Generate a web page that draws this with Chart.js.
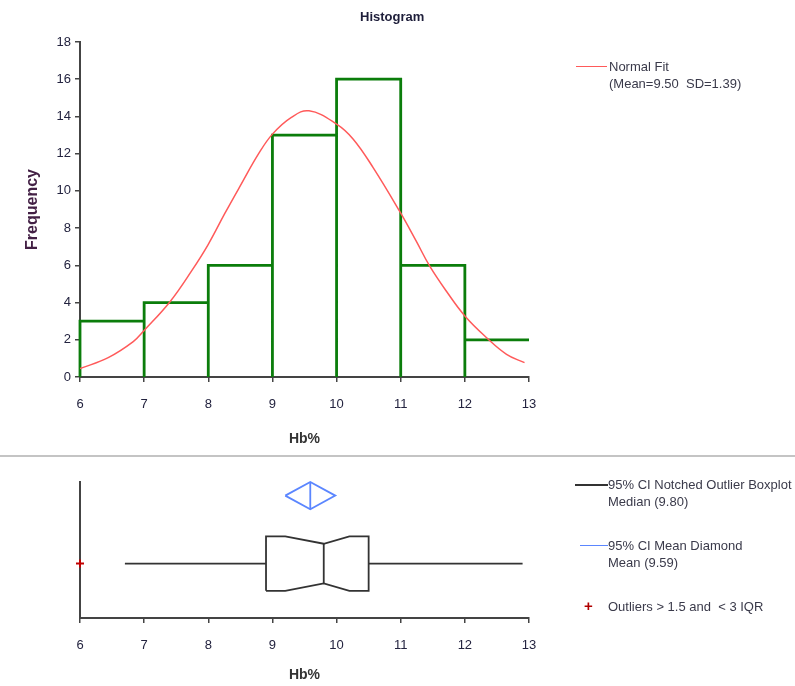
<!DOCTYPE html>
<html>
<head>
<meta charset="utf-8">
<script src="https://cdn.jsdelivr.net/npm/chart.js@4.4.1/dist/chart.umd.min.js"></script>
<style>
  body { margin: 0; background: #fff; font-family: "Liberation Sans", Arial, sans-serif; }
  #page { position: relative; width: 795px; height: 686px; overflow: hidden; }
  canvas { position: absolute; left: 0; }
  .txt { position: absolute; font-size: 13px; color: #3a3a4a; white-space: nowrap; line-height: 17px; }
  .swatch { position: absolute; height: 0; }
</style>
</head>
<body>
<div id="page">
  <canvas id="hist" width="795" height="455" style="top:0"></canvas>
  <canvas id="box" width="795" height="231" style="top:455px"></canvas>

  <div class="txt" style="left:360px; top:8px; font-weight:bold; color:#1e1e3a;">Histogram</div>

  <!-- separator between the two panels -->
  <div style="position:absolute; left:0; top:455px; width:795px; height:2px; background:#c4c4c4;"></div>

  <!-- legend, histogram panel -->
  <div class="swatch" style="left:576px; top:66px; width:31px; border-top:1.5px solid #ff5a5a;"></div>
  <div class="txt" style="left:609px; top:58px;">Normal Fit<br>(Mean=9.50&nbsp; SD=1.39)</div>

  <!-- legend, boxplot panel -->
  <div class="swatch" style="left:575px; top:484px; width:33px; border-top:2px solid #333;"></div>
  <div class="txt" style="left:608px; top:476px;">95% CI Notched Outlier Boxplot<br>Median (9.80)</div>
  <div class="swatch" style="left:580px; top:545px; width:28px; border-top:1.5px solid #5b86ff;"></div>
  <div class="txt" style="left:608px; top:537px;">95% CI Mean Diamond<br>Mean (9.59)</div>
  <div class="txt" style="left:584px; top:597px; color:#b00000; font-weight:bold; font-size:15px;">+</div>
  <div class="txt" style="left:608px; top:598px;">Outliers &gt; 1.5 and &nbsp;&lt; 3 IQR</div>
</div>

<script>
// histogram bins
const binEdges = [6, 7, 8, 9, 10, 11, 12, 13];
const binCounts = [3, 4, 6, 13, 16, 6, 2];

// normal fit curve
const fitX = [6.0, 6.44, 6.83, 7.0, 7.4, 7.74, 8.0, 8.26, 8.52, 8.78, 9.0, 9.29, 9.57,
              10.0, 10.26, 10.57, 10.98, 11.24, 11.45, 11.71, 12.0, 12.34, 12.65, 12.93];
const fitY = [0.45, 1.04, 1.9, 2.5, 4.03, 5.7, 7.13, 8.8, 10.4, 11.97, 13.05, 13.94, 14.3,
              13.59, 12.78, 11.25, 8.92, 7.31, 5.97, 4.62, 3.28, 2.11, 1.22, 0.77];

// boxplot stats
const whiskerLow = 6.7;
const q1 = 8.9;
const notchLow = 9.2;
const median = 9.8;
const notchHigh = 10.2;
const q3 = 10.5;
const whiskerHigh = 12.9;
const outliers = [6.0];

// mean diamond
const meanVal = 9.59;
const meanLow = 9.2;
const meanHigh = 9.98;

const xTicks = [6, 7, 8, 9, 10, 11, 12, 13];

const tickFont = { family: "'Liberation Sans', Arial, sans-serif", size: 13 };
const tickColor = "#23233f";
const axisColor = "#444";

function xAxis(height, titlePad) {
    return {
        type: "linear",
        min: xTicks[0],
        max: xTicks[xTicks.length - 1],
        afterBuildTicks: (s) => { s.ticks = xTicks.map(v => ({ value: v })); },
        ticks: { color: tickColor, font: tickFont, padding: 15 },
        grid: { drawOnChartArea: false, drawTicks: true, tickLength: 5, color: axisColor, lineWidth: 1.5 },
        border: { color: axisColor, width: 2 },
        title: {
            display: true, text: "Hb%", color: "#333",
            font: { family: "'Liberation Sans', Arial, sans-serif", size: 14, weight: "bold" },
            padding: { top: 0, bottom: titlePad }
        },
        afterFit: (s) => { s.height = height; }
    };
}

// ---- histogram panel ----
let histPts = [{ x: binEdges[0], y: 0 }];
for (let i = 0; i < binCounts.length; i++) {
    histPts.push({ x: binEdges[i], y: binCounts[i] });
    histPts.push({ x: binEdges[i + 1], y: binCounts[i] });
    if (i < binCounts.length - 1) histPts.push({ x: binEdges[i + 1], y: 0 });
}

const fitPts = fitX.map((x, i) => ({ x: x, y: fitY[i] }));

new Chart(document.getElementById("hist").getContext("2d"), {
    type: "scatter",
    data: {
        datasets: [
            {
                label: "Normal Fit",
                data: fitPts,
                showLine: true,
                borderColor: "#ff5a5a",
                borderWidth: 1.5,
                pointRadius: 0,
                tension: 0.4,
                order: 0
            },
            {
                label: "Histogram",
                data: histPts,
                showLine: true,
                borderColor: "#0b7d0b",
                borderWidth: 2.8,
                pointRadius: 0,
                tension: 0,
                clip: false,
                order: 1
            }
        ]
    },
    options: {
        responsive: false,
        animation: false,
        layout: { padding: { top: 42, right: 266, left: 0, bottom: 0 } },
        plugins: { legend: { display: false }, tooltip: { enabled: false } },
        scales: {
            x: xAxis(78, 7),
            y: {
                min: 0,
                max: 18,
                ticks: { stepSize: 2, color: tickColor, font: tickFont, padding: 4 },
                grid: { drawOnChartArea: false, drawTicks: true, tickLength: 5, color: axisColor, lineWidth: 1.5 },
                border: { color: axisColor, width: 2 },
                title: {
                    display: true, text: "Frequency", color: "#432045",
                    font: { family: "'Liberation Sans', Arial, sans-serif", size: 16, weight: "bold" },
                    padding: { top: 23, bottom: 0 }
                },
                afterFit: (s) => { s.width = 80; }
            }
        }
    }
});

// ---- boxplot panel ----
// box sits at y 1..3, notch narrows to 1.27..2.73, diamond at y 4..5
const boxOutline = [
    { x: q1, y: 1 }, { x: q1, y: 3 }, { x: notchLow, y: 3 }, { x: median, y: 2.73 },
    { x: notchHigh, y: 3 }, { x: q3, y: 3 }, { x: q3, y: 1 }, { x: notchHigh, y: 1 },
    { x: median, y: 1.27 }, { x: notchLow, y: 1 }, { x: q1, y: 1 }
];
const medianLine = [{ x: median, y: 1.27 }, { x: median, y: 2.73 }];
const whiskers = [{ x: whiskerLow, y: 2 }, { x: q1, y: 2 }, { x: null, y: null }, { x: q3, y: 2 }, { x: whiskerHigh, y: 2 }];
const diamond = [
    { x: meanLow, y: 4.5 }, { x: meanVal, y: 5 }, { x: meanHigh, y: 4.5 },
    { x: meanVal, y: 4 }, { x: meanLow, y: 4.5 }
];
const meanLine = [{ x: meanVal, y: 4 }, { x: meanVal, y: 5 }];

const lineSet = (data, color) => ({
    data: data, showLine: true, borderColor: color, borderWidth: 1.8,
    pointRadius: 0, tension: 0, spanGaps: false, clip: false
});

new Chart(document.getElementById("box").getContext("2d"), {
    type: "scatter",
    data: {
        datasets: [
            lineSet(boxOutline, "#333"),
            lineSet(medianLine, "#333"),
            lineSet(whiskers, "#333"),
            lineSet(diamond, "#5b86ff"),
            lineSet(meanLine, "#5b86ff"),
            {
                data: outliers.map(v => ({ x: v, y: 2 })),
                pointStyle: "cross",
                pointRadius: 4,
                borderColor: "#c00000",
                borderWidth: 2,
                clip: false
            }
        ]
    },
    options: {
        responsive: false,
        animation: false,
        layout: { padding: { top: 27, right: 266, left: 0, bottom: 0 } },
        plugins: { legend: { display: false }, tooltip: { enabled: false } },
        scales: {
            x: xAxis(68, 2),
            y: {
                min: 0,
                max: 5,
                ticks: { display: false },
                grid: { display: false },
                border: { color: axisColor, width: 2 },
                afterFit: (s) => { s.width = 80; }
            }
        }
    }
});
</script>
</body>
</html>
